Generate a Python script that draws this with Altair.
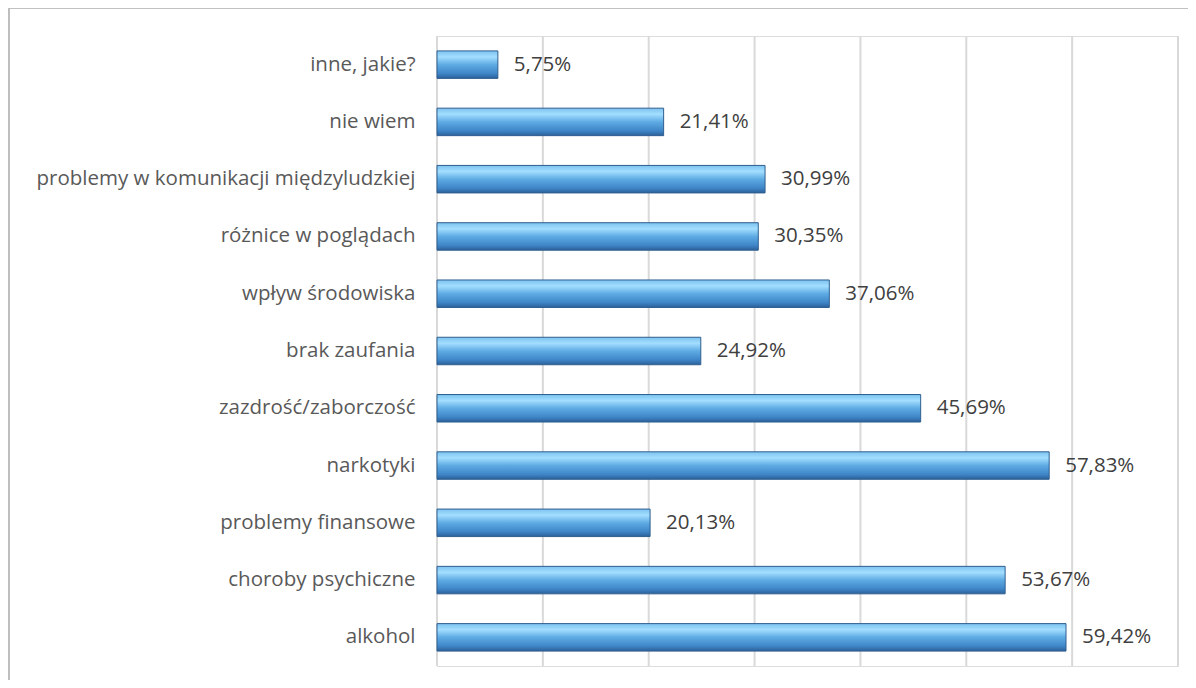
import altair as alt
import pandas as pd

categories = ["inne, jakie?", "nie wiem", "problemy w komunikacji międzyludzkiej",
              "różnice w poglądach", "wpływ środowiska", "brak zaufania",
              "zazdrość/zaborczość", "narkotyki", "problemy finansowe",
              "choroby psychiczne", "alkohol"]
values = [5.75, 21.41, 30.99, 30.35, 37.06, 24.92, 45.69, 57.83, 20.13, 53.67, 59.42]
labels = [f"{v:.2f}".replace(".", ",") + "%" for v in values]
grid_values = [0, 10, 20, 30, 40, 50, 60, 70]

df = pd.DataFrame({"cat": categories, "val": values, "lab": labels})
gdf = pd.DataFrame({"g": grid_values})

FONT = "Open Sans"
W, H = 741, 630

xscale = alt.Scale(domain=[0, 70], nice=False)
x = alt.X("val:Q", scale=xscale, axis=None)
y = alt.Y("cat:N", sort=categories,
          scale=alt.Scale(paddingInner=0.52, paddingOuter=0.26),
          axis=alt.Axis(title=None, ticks=False, domain=False, labelFont=FONT,
                        labelFontSize=20.5, labelColor="#595959", labelPadding=22,
                        labelLimit=500))

grad = alt.Gradient(
    gradient="linear", x1=0, y1=0, x2=0, y2=1,
    stops=[alt.GradientStop(offset=0, color="#7cc2f0"),
           alt.GradientStop(offset=0.22, color="#a3deff"),
           alt.GradientStop(offset=0.5, color="#5eabe4"),
           alt.GradientStop(offset=0.82, color="#3f86c8"),
           alt.GradientStop(offset=1, color="#2c6099")])

frame = alt.Chart(df).mark_rect(fill=None, stroke="#bfbfbf", strokeWidth=1.5).encode(
    x=alt.value(-428), x2=alt.value(900), y=alt.value(-28.5), y2=alt.value(720))

grid = alt.Chart(gdf).mark_rule(color="#d9d9d9", strokeWidth=2).encode(
    x=alt.X("g:Q", scale=xscale, axis=None), y=alt.value(0), y2=alt.value(H))

bars = alt.Chart(df).mark_bar(fill=grad, stroke="#2f5f8f", strokeWidth=1).encode(
    x=x, y=y)

text = alt.Chart(df).mark_text(align="left", baseline="middle", dx=16, font=FONT,
                               fontSize=20.5, color="#404040").encode(
    x="val:Q", y=alt.Y("cat:N", sort=categories), text="lab:N")

chart = alt.layer(frame, grid, bars, text).properties(
    width=W, height=H,
    autosize=alt.AutoSizeParams(type="none"),
    padding={"left": 429, "top": 28, "right": 10, "bottom": 14},
).configure_view(stroke=None).configure(background="white")

chart.save("out.html", embed_options={"renderer": "svg", "actions": False})
